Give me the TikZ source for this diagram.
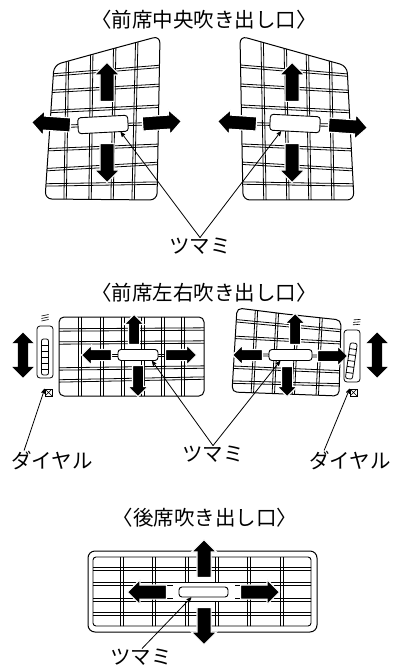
\documentclass[tikz,border=0pt]{standalone}
\usepackage{fontspec}
\usetikzlibrary{shapes.arrows, arrows}
\newfontfamily\cjk{Noto Sans CJK JP}
\tikzstyle{leader} = [line width=0.8pt,-{stealth'}]
\tikzstyle{caption} = [font=\cjk\fontsize{20.5}{22}\selectfont, inner sep=0pt]
\tikzstyle{shell} = [line width=1pt, rounded corners=7pt]
\tikzstyle{slat} = [line width=0.8pt]
\tikzstyle{knob} = [draw, fill=white, rounded corners=3pt, line width=0.9pt, inner sep=0pt]
\tikzstyle{flow} = [single arrow, fill=black, draw=white, line width=1.2pt, inner sep=6.5pt,
  single arrow head extend=5.5pt, single arrow head indent=0pt, minimum width=24pt, anchor=tail]
\tikzstyle{flowsmall} = [flow, inner sep=5pt, single arrow head extend=4.5pt, minimum width=19pt]
\tikzstyle{updown} = [double arrow, fill=black, inner sep=5pt,
  double arrow head extend=5.5pt, double arrow head indent=0pt, minimum width=21pt,
  minimum height=45pt, rotate=90]
\tikzstyle{dialbody} = [draw, rounded corners=3pt, line width=0.8pt, minimum width=16pt, minimum height=52pt, inner sep=0pt]
\tikzstyle{xbox} = [draw, line width=0.6pt, minimum size=7pt, inner sep=0pt,
  path picture={\draw[line width=0.5pt] (path picture bounding box.north west) -- (path picture bounding box.south east)
    (path picture bounding box.north east) -- (path picture bounding box.south west);}]
\newcommand{\dialunit}[4]{% name, centre, angle, box position
  \begin{scope}[shift={(#2)}, rotate=#3]
    \node (#1) [dialbody] at (0,0) {};
    \draw[line width=0.8pt, rounded corners=2pt] (-3.5,-13) rectangle (3.5,23);
    \foreach \yy in {-7,-1,5,11,17}
      \draw[line width=0.8pt] (-3.5,\yy) -- (3.5,\yy);
    \foreach \yy in {-36,-33.5,-31}
      \draw[line width=0.6pt] (-3.5,\yy) -- (3.5,\yy-1.5);
  \end{scope}
  \node (#1box) [xbox] at (#4) {};
}

\begin{document}
\begin{tikzpicture}[x=1pt, y=-1pt]
  \useasboundingbox (0,0) rectangle (392,668);

  % front centre, left
  \begin{scope}
    \clip[rounded corners=7pt] (110,49.5) -- (160,36) -- (157,200) -- (45,199) -- (54,65) -- cycle;
    \foreach \xa/\xb in {68/65, 92/90, 115/112, 137/133}
      \draw[slat] (\xa-1.2,30) -- (\xb-1.2,205) (\xa+1.2,30) -- (\xb+1.2,205);
    \foreach \ya/\yb in {76/66, 92/85, 112/106, 150/145, 170/163, 185/183}
      \draw[slat] (40,\ya-1.2) -- (165,\yb-1.2) (40,\ya+1.2) -- (165,\yb+1.2);
  \end{scope}
  \draw[shell] (110,49.5) -- (160,36) -- (157,200) -- (45,199) -- (54,65) -- cycle;
  \draw[slat] (71,124.8) -- (142,122.8) (71,127.2) -- (142,125.2);
  \node (knobCL) [knob, minimum width=50pt, minimum height=16pt, rotate=3] at (103,124.5) {};
  \node (upCL) [flow, minimum height=39pt, rotate=90] at (107,102) {};
  \node (downCL) [flow, minimum height=39pt, rotate=-90] at (107,143) {};
  \node (leftCL) [flow, minimum height=39pt, rotate=176] at (71,125) {};
  \node (rightCL) [flow, minimum height=39pt, rotate=4] at (142,124) {};

  % front centre, right
  \begin{scope}
    \clip[rounded corners=7pt] (290,50) -- (347,66) -- (354,200) -- (243,200) -- (240,36) -- cycle;
    \foreach \xa/\xb in {262/265, 285/288, 307/310, 330/333}
      \draw[slat] (\xa-1.2,30) -- (\xb-1.2,205) (\xa+1.2,30) -- (\xb+1.2,205);
    \foreach \ya/\yb in {66/76, 85/92, 106/112, 145/150, 163/170, 183/185}
      \draw[slat] (238,\ya-1.2) -- (358,\yb-1.2) (238,\ya+1.2) -- (358,\yb+1.2);
  \end{scope}
  \draw[shell] (290,50) -- (347,66) -- (354,200) -- (243,200) -- (240,36) -- cycle;
  \draw[slat] (257,122.8) -- (328,123.8) (257,125.2) -- (328,126.2);
  \node (knobCR) [knob, minimum width=50pt, minimum height=16pt, rotate=-3] at (295,123.5) {};
  \node (upCR) [flow, minimum height=39pt, rotate=90] at (292,102) {};
  \node (downCR) [flow, minimum height=39pt, rotate=-90] at (292,143) {};
  \node (leftCR) [flow, minimum height=39pt, rotate=176] at (257,124) {};
  \node (rightCR) [flow, minimum height=39pt, rotate=-4] at (328,125) {};

  % front side, left
  \begin{scope}
    \clip[rounded corners=5pt] (59,317) rectangle (204,396);
    \foreach \xa in {80,102,123,143,163,183}
      \draw[slat] (\xa-1.2,310) -- (\xa-1.2,400) (\xa+1.2,310) -- (\xa+1.2,400);
    \foreach \ya/\yb in {330/329, 343/342, 369/367, 381/378}
      \draw[slat] (55,\ya-1.2) -- (208,\yb-1.2) (55,\ya+1.2) -- (208,\yb+1.2);
  \end{scope}
  \draw[shell, rounded corners=5pt] (59,317) rectangle (204,396);
  \draw[slat] (112,354) -- (165,354) (112,356) -- (165,356);
  \node (knobSL) [knob, minimum width=40pt, minimum height=11pt] at (138,355) {};
  \node (upSL) [flowsmall, minimum height=30pt, rotate=90] at (134,345) {};
  \node (downSL) [flowsmall, minimum height=31pt, rotate=-90] at (138,365) {};
  \node (leftSL) [flowsmall, minimum height=30pt, rotate=180] at (112,355) {};
  \node (rightSL) [flowsmall, minimum height=31pt] at (165,355) {};

  % front side, right
  \begin{scope}
    \clip[rounded corners=5pt] (285,314) -- (341,320) -- (339,396) -- (232,392) -- (237,308) -- cycle;
    \foreach \xa/\xb in {257/252, 278/273, 298/293, 322/317}
      \draw[slat] (\xa-1.2,300) -- (\xb-1.2,400) (\xa+1.2,300) -- (\xb+1.2,400);
    \foreach \ya/\yb in {320/331, 337/343, 367/372, 382/385}
      \draw[slat] (228,\ya-1.2) -- (345,\yb-1.2) (228,\ya+1.2) -- (345,\yb+1.2);
  \end{scope}
  \draw[shell, rounded corners=5pt] (285,314) -- (341,320) -- (339,396) -- (232,392) -- (237,308) -- cycle;
  \draw[slat] (263,354) -- (317,355) (263,356) -- (317,357);
  \node (knobSR) [knob, minimum width=43pt, minimum height=11pt] at (290.5,355) {};
  \node (upSR) [flowsmall, minimum height=31pt, rotate=90] at (295,345) {};
  \node (downSR) [flowsmall, minimum height=30pt, rotate=-90] at (287,366) {};
  \node (leftSR) [flowsmall, minimum height=30pt, rotate=180] at (263,355) {};
  \node (rightSR) [flowsmall, minimum height=30pt] at (317,356) {};

  % dials
  \dialunit{dialL}{45,352}{0}{48.5,392.5}
  \dialunit{dialR}{352,356}{-8}{353.5,392.5}
  \node (moveL) [updown] at (23,355) {};
  \node (moveR) [updown] at (377,355) {};

  % rear
  \draw[shell] (88,551) rectangle (317,632);
  \begin{scope}
    \clip[rounded corners=3pt] (93,557) rectangle (311,626);
    \foreach \xa in {122,154,187,217,249,282}
      \draw[slat] (\xa-1.2,550) -- (\xa-1.2,630) (\xa+1.2,550) -- (\xa+1.2,630);
    \foreach \ya in {569,584,600,614}
      \draw[slat] (90,\ya-1.2) -- (315,\ya-1.2) (90,\ya+1.2) -- (315,\ya+1.2);
  \end{scope}
  \draw[line width=0.9pt, rounded corners=3pt] (93,557) rectangle (311,626);
  \node (haloRear) [fill=white, inner sep=0pt, minimum width=62pt, minimum height=18pt] at (203.5,592) {};
  \node (knobRear) [knob, minimum width=49pt, minimum height=10pt] at (203.5,592) {};
  \node (upRear) [flow, minimum height=38pt, rotate=90] at (204,578) {};
  \node (downRear) [flow, minimum height=37pt, rotate=-90] at (204,607) {};
  \node (leftRear) [flow, minimum height=39pt, rotate=180] at (167,592) {};
  \node (rightRear) [flow, minimum height=39pt] at (240,592) {};

  % captions
  \node (titleC) [caption] at (204,20) {〈前席中央吹き出し口〉};
  \node (titleS) [caption] at (204,293) {〈前席左右吹き出し口〉};
  \node (titleB) [caption] at (205,518) {〈後席吹き出し口〉};
  \node (tsumamiC) [caption] at (200,246) {ツマミ};
  \node (tsumamiS) [caption] at (213,454) {ツマミ};
  \node (tsumamiB) [caption] at (141,657) {ツマミ};
  \node (dialtextL) [caption] at (52,461) {ダイヤル};
  \node (dialtextR) [caption] at (350,461) {ダイヤル};

  % leaders
  \draw[leader] (tsumamiC.north) -- (knobCL.-26);
  \draw[leader] (tsumamiC.north) -- (knobCR.-148);
  \draw[leader] (tsumamiS.north) -- (knobSL.-23);
  \draw[leader] (tsumamiS.north) -- (knobSR.-150);
  \draw[leader] (dialtextL.north west) ++(13,-1) -- (dialLbox.north west);
  \draw[leader] (dialtextR.north west) ++(15,-1) -- (dialRbox.north west);
  \draw[leader] (tsumamiB.north) ++(1,0) -- (knobRear.-156);
\end{tikzpicture}
\end{document}
